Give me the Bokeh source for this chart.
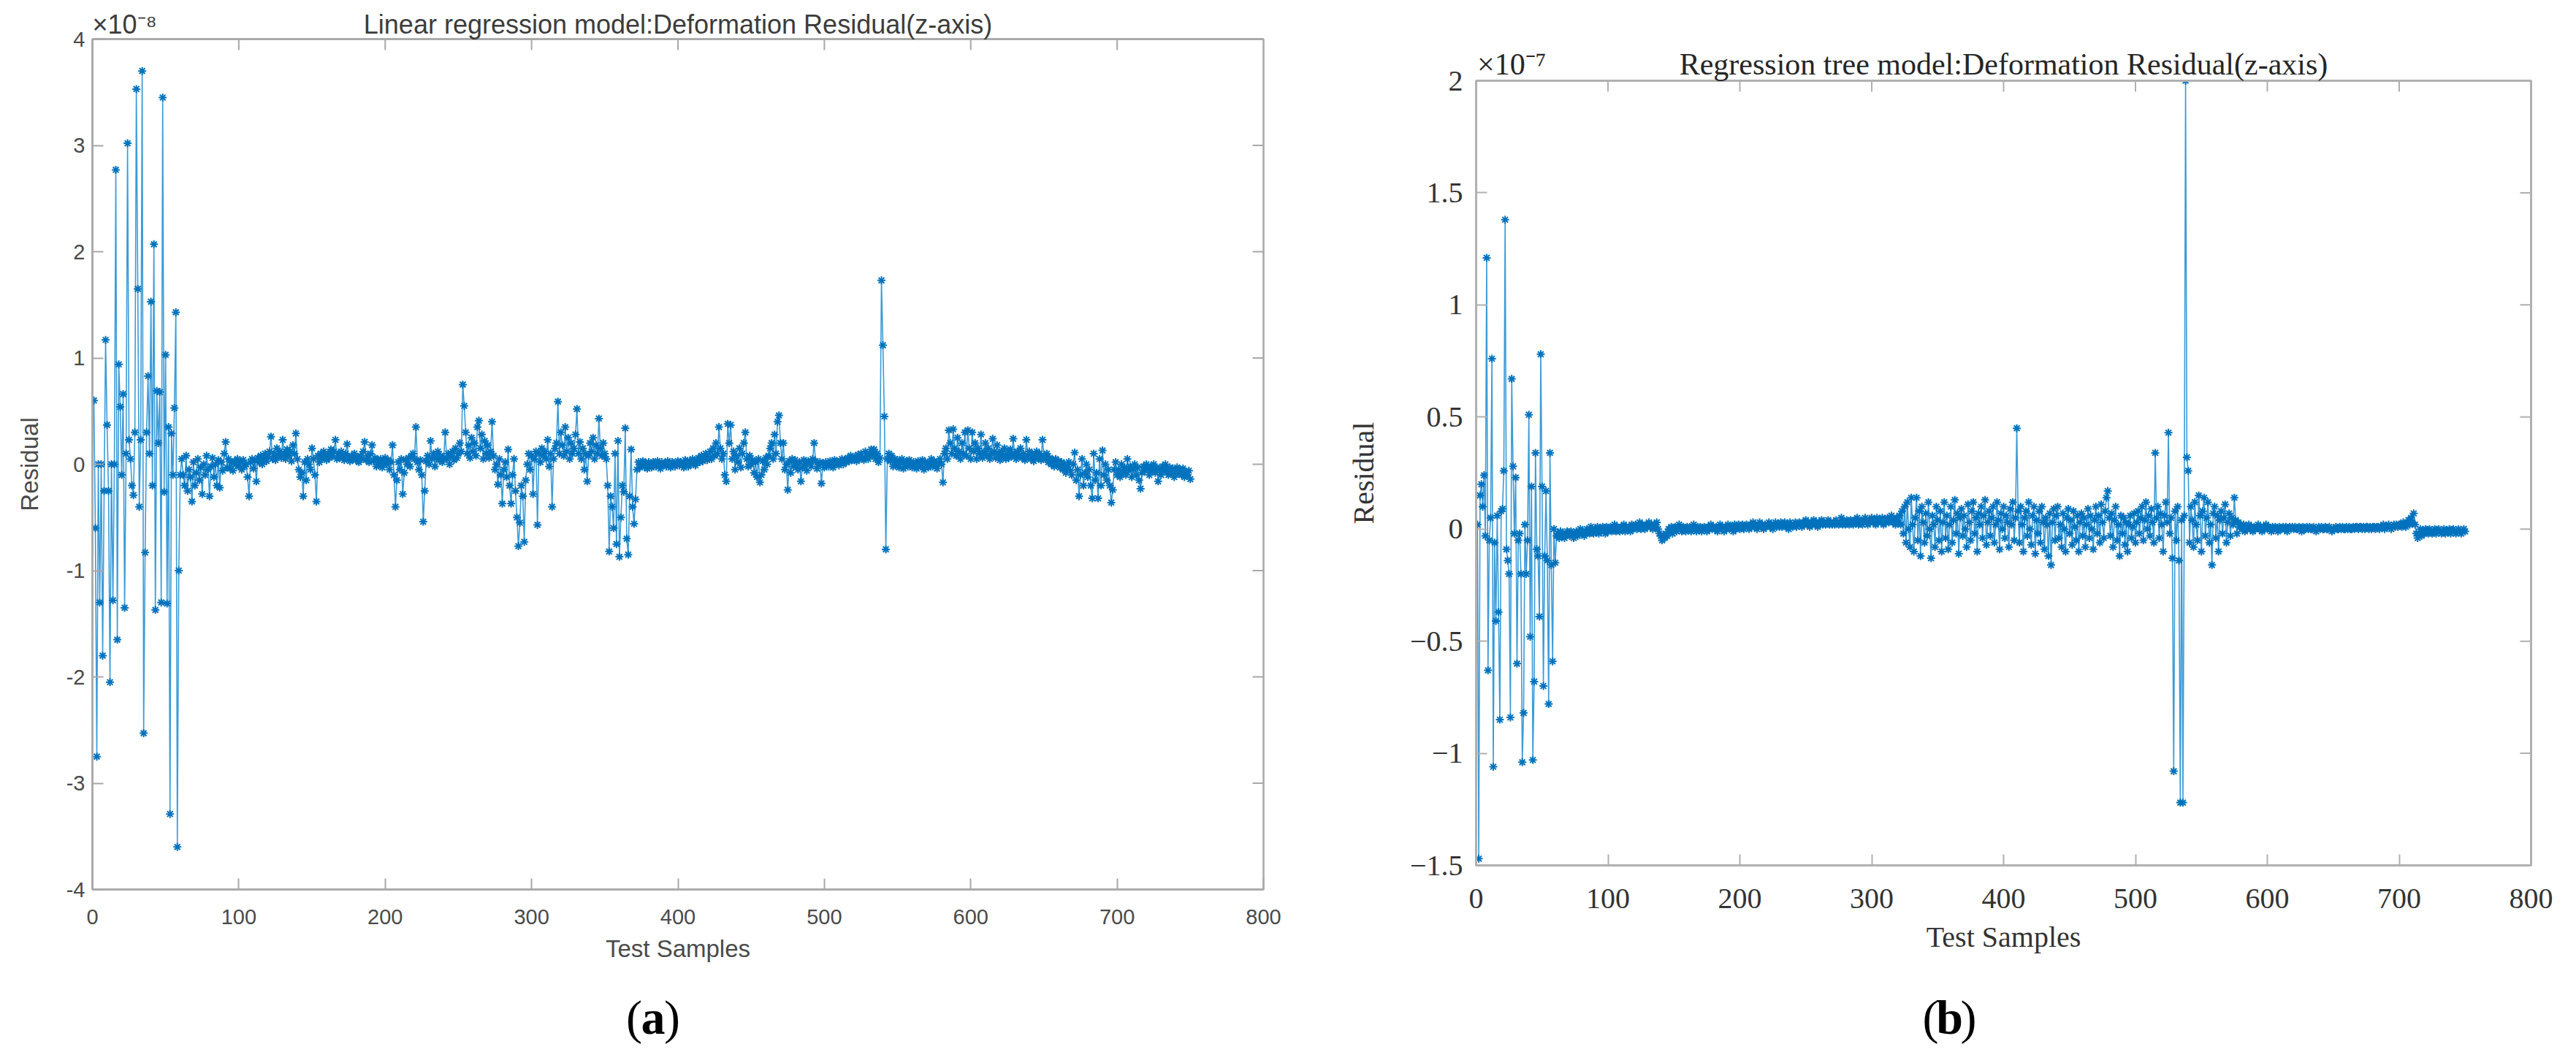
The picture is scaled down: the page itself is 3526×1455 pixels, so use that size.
from bokeh.plotting import figure
from bokeh.models import FixedTicker, Range1d, LinearAxis
from bokeh.layouts import row, column
from bokeh.core.properties import value
from bokeh.embed import file_html
from bokeh.resources import INLINE

# ---------------- data ----------------
sample_ticks = [0, 100, 200, 300, 400, 500, 600, 700, 800]
lin_ticks = [-4, -3, -2, -1, 0, 1, 2, 3, 4]
lin_tick_labels = ["-4", "-3", "-2", "-1", "0", "1", "2", "3", "4"]
tree_ticks = [-1.5, -1, -0.5, 0, 0.5, 1, 1.5, 2]
tree_tick_labels = ["\u22121.5", "\u22121", "\u22120.5", "0", "0.5", "1", "1.5", "2"]
lin_title = "Linear regression model:Deformation Residual(z-axis)"
tree_title = "Regression tree model:Deformation Residual(z-axis)"
lin_exponent = "\u00d710\u207b\u2078"
tree_exponent = "\u00d710\u207b\u2077"

# Linear regression residual (units of 1e-8)
lin_residual = [
    0.6, -0.6, -2.75, 0.0, -1.3, 0.0, -1.8, -0.25, 1.17, 0.37,
    -0.25, -2.05, 0.0, -1.28, 0.0, 2.77, -1.65, 0.94, 0.54, -0.1,
    0.66, -1.35, 0.1, 3.02, 0.23, 0.05, -0.2, -0.29, 0.3, 3.53,
    1.65, -0.4, 0.23, 3.7, -2.53, -0.83, 0.3, 0.83, 0.1, 1.53,
    -0.2, 2.07, -1.37, 0.69, 0.2, 0.68, -1.3, 3.45, -0.26, 1.03,
    -1.31, 0.35, -3.29, 0.29, -0.1, 0.53, 1.43, -3.6, -1.0, -0.1,
    0.05, -0.1, -0.2, 0.08, -0.25, -0.05, -0.12, -0.35, 0.02, -0.2,
    -0.08, 0.05, -0.15, -0.03, -0.28, 0.0, -0.1, 0.08, -0.05, -0.3,
    -0.02, 0.06, -0.12, 0.0, -0.2, 0.04, -0.22, 0.02, -0.06, 0.1,
    0.21, -0.03, 0.05, -0.04, 0.02, -0.06, 0.03, 0.0, 0.05, -0.02,
    0.02, -0.05, 0.04, -0.02, 0.0, -0.12, -0.3, 0.02, 0.05, -0.04,
    0.03, -0.16, 0.06, 0.02, 0.08, 0.0, 0.05, 0.1, 0.03, 0.07,
    0.12, 0.26, 0.05, 0.1, 0.04, 0.15, 0.08, 0.12, 0.06, 0.23,
    0.1, 0.05, 0.14, 0.08, 0.12, 0.03, 0.18, 0.1, 0.29, 0.05,
    -0.05, -0.12, -0.08, -0.3, 0.02, -0.15, 0.05, 0.0, -0.05, 0.15,
    0.05, -0.1, -0.35, 0.08, 0.02, 0.1, 0.05, 0.12, 0.08, 0.04,
    0.1, 0.06, 0.14, 0.08, 0.12, 0.23, 0.05, 0.1, 0.06, 0.12,
    0.08, 0.04, 0.1, 0.19, 0.06, 0.03, 0.08, 0.05, 0.1, 0.04,
    0.06, 0.02, 0.08, 0.05, 0.12, 0.21, 0.04, 0.08, 0.02, 0.1,
    0.18, 0.03, 0.06, -0.02, 0.04, 0.0, 0.05, -0.03, 0.02, 0.06,
    0.0, 0.04, -0.05, 0.02, 0.18, -0.1, -0.4, -0.15, 0.02, -0.05,
    0.05, -0.28, -0.08, 0.04, 0.0, 0.06, -0.02, 0.08, 0.1, 0.05,
    0.35, 0.02, -0.05, 0.04, -0.1, -0.54, -0.25, 0.03, 0.08, 0.0,
    0.22, 0.05, 0.1, -0.02, 0.06, 0.12, 0.04, 0.08, 0.02, 0.06,
    0.3, 0.05, 0.1, 0.0, 0.08, 0.12, 0.04, 0.15, 0.06, 0.1,
    0.2, 0.12, 0.75, 0.55, 0.3, 0.1, 0.18, 0.06, 0.25, 0.12,
    0.2, 0.08, 0.35, 0.41, 0.15, 0.28, 0.05, 0.22, 0.1, 0.18,
    0.06, 0.12, 0.4, 0.08, -0.05, 0.0, -0.19, 0.05, -0.1, -0.37,
    -0.05, 0.02, -0.12, 0.14, -0.2, -0.37, -0.1, 0.05, -0.25, -0.5,
    -0.77, -0.55, -0.2, -0.3, -0.73, -0.15, 0.0, 0.1, -0.05, 0.08,
    -0.28, 0.05, 0.12, -0.57, 0.1, 0.02, 0.15, 0.08, 0.12, 0.05,
    0.23, -0.02, 0.1, -0.4, 0.05, 0.15, 0.2, 0.59, 0.1, 0.3,
    0.18, 0.08, 0.35, 0.12, 0.25, 0.05, 0.2, 0.1, 0.15, 0.28,
    0.52, 0.1, 0.21, 0.05, 0.15, -0.05, 0.1, -0.16, 0.08, 0.2,
    0.12, 0.25, 0.05, 0.18, 0.1, 0.43, 0.15, 0.08, 0.2, 0.1,
    0.05, -0.2, -0.82, -0.3, -0.4, -0.6, 0.1, -0.75, 0.22, -0.87,
    -0.5, -0.2, -0.26, 0.34, -0.7, -0.85, -0.3, 0.14, -0.4, -0.56,
    -0.33, -0.05, 0.02, -0.03, 0.0, 0.03, -0.02, 0.01, -0.04, 0.02,
    0.0, -0.03, 0.02, 0.01, -0.02, 0.03, 0.0, -0.04, 0.02, -0.01,
    0.01, -0.02, 0.03, 0.0, -0.03, 0.02, 0.01, -0.02, 0.0, 0.03,
    -0.01, 0.02, 0.0, -0.03, 0.04, 0.01, -0.02, 0.03, 0.0, 0.05,
    0.02, -0.01, 0.04, 0.06, 0.02, 0.08, 0.03, 0.05, 0.1, 0.04,
    0.06, 0.12, 0.05, 0.15, 0.08, 0.2, 0.1, 0.35, 0.15, 0.05,
    0.1, -0.1, -0.16, 0.38, 0.2, 0.37, 0.05, 0.12, -0.05, 0.08,
    0.02, 0.15, -0.03, 0.1, 0.2, 0.3, 0.05, -0.02, 0.08, 0.0,
    0.04, -0.08, 0.02, -0.12, 0.05, -0.17, -0.1, 0.03, -0.05, 0.06,
    0.0, 0.08, 0.15, 0.2, 0.05, 0.28, 0.1, 0.4, 0.46, 0.2,
    0.05, 0.2, -0.05, 0.0, -0.24, 0.03, -0.08, 0.05, -0.02, 0.04,
    0.0, -0.05, 0.02, -0.16, -0.03, 0.04, 0.0, -0.06, 0.03, 0.01,
    -0.02, 0.05, 0.2, 0.03, -0.04, 0.0, 0.02, -0.18, 0.01, -0.03,
    0.02, 0.0, -0.02, 0.03, 0.01, -0.03, 0.04, 0.0, 0.02, -0.01,
    0.03, 0.05, 0.0, 0.04, 0.02, 0.06, 0.03, 0.08, 0.04, 0.05,
    0.07, 0.03, 0.09, 0.05, 0.1, 0.06, 0.04, 0.12, 0.08, 0.05,
    0.1, 0.14, 0.08, 0.14, 0.05, 0.1, 0.02, 0.06, 1.73, 1.12,
    0.45, -0.8, 0.05, 0.1, 0.03, 0.08, -0.02, 0.05, 0.0, 0.04,
    -0.03, 0.02, 0.05, -0.04, 0.0, 0.03, -0.02, 0.04, 0.01, -0.03,
    0.02, 0.0, -0.04, 0.03, 0.01, -0.02, 0.04, -0.05, 0.02, 0.0,
    -0.03, 0.02, 0.05, -0.02, 0.03, 0.0, -0.04, 0.02, 0.05, 0.0,
    -0.17, 0.1, 0.15, 0.05, 0.32, 0.2, 0.1, 0.33, 0.15, 0.08,
    0.25, 0.12, 0.05, 0.2, 0.1, 0.3, 0.08, 0.32, 0.15, 0.05,
    0.3, 0.12, 0.2, 0.05, 0.15, 0.1, 0.28, 0.06, 0.12, 0.2,
    0.08, 0.15, 0.05, 0.1, 0.24, 0.12, 0.06, 0.18, 0.1, 0.04,
    0.12, 0.08, 0.15, 0.05, 0.1, 0.06, 0.14, 0.08, 0.24, 0.1,
    0.05, 0.12, 0.08, 0.15, 0.06, 0.1, 0.04, 0.23, 0.08, 0.12,
    0.05, 0.1, 0.03, 0.08, 0.12, 0.06, 0.1, 0.04, 0.23, 0.08,
    0.05, 0.1, 0.02, 0.06, 0.0, 0.04, -0.02, 0.05, 0.0, 0.03,
    -0.03, 0.02, -0.05, 0.0, -0.08, -0.03, 0.02, -0.06, -0.1, 0.0,
    0.11, -0.15, -0.05, -0.3, -0.1, 0.05, -0.2, -0.08, 0.0, -0.12,
    -0.05, -0.2, -0.32, 0.1, -0.15, -0.08, -0.32, 0.05, -0.2, 0.13,
    -0.1, 0.0, -0.15, -0.05, -0.2, -0.36, -0.24, -0.05, 0.02, -0.1,
    -0.05, -0.12, 0.0, -0.08, -0.03, -0.1, 0.05, -0.06, -0.02, -0.12,
    -0.05, 0.0, -0.1, -0.03, -0.15, -0.23, -0.08, -0.02, -0.06, 0.0,
    -0.04, -0.1, -0.02, -0.06, 0.0, -0.08, -0.03, -0.16, -0.05, -0.1,
    -0.02, -0.07, 0.0, -0.05, -0.1, -0.03, -0.08, -0.04, -0.12, -0.06,
    -0.03, -0.09, -0.05, -0.1, -0.04, -0.12, -0.07, -0.1, -0.06, -0.14,
]

# Regression tree residual (units of 1e-7)
tree_residual = [
    0.02, -1.47, 0.15, 0.2, 0.1, 0.24, -0.03, 1.21, -0.63, -0.05,
    0.05, 0.76, -1.06, -0.06, -0.41, 0.06, -0.37, -0.85, 0.08, 0.09,
    0.26, 1.38, -0.09, -0.14, -0.2, -0.84, 0.67, 0.28, -0.02, 0.23,
    -0.6, -0.05, -0.02, -0.2, -1.04, -0.82, 0.02, -0.2, -0.05, 0.51,
    -0.48, 0.19, -1.03, -0.68, 0.34, -0.09, -0.12, -0.39, 0.78, 0.19,
    -0.7, -0.12, 0.17, -0.14, -0.78, 0.34, -0.16, -0.59, 0.0, -0.15,
    -0.03, -0.02, -0.04, -0.01, -0.03, -0.02, -0.04, -0.03, -0.01, -0.02,
    -0.03, -0.01, -0.02, -0.04, -0.02, -0.01, -0.03, -0.02, 0.0, -0.02,
    -0.01, -0.03, -0.02, 0.0, -0.01, -0.02, 0.01, -0.01, -0.02, 0.0,
    -0.01, 0.01, -0.02, 0.0, -0.01, 0.01, 0.0, -0.02, 0.01, -0.01,
    0.0, 0.01, -0.01, 0.0, 0.02, -0.01, 0.01, 0.0, -0.01, 0.01,
    0.0, 0.02, -0.01, 0.01, 0.0, 0.01, -0.01, 0.02, 0.0, 0.01,
    0.02, 0.0, 0.01, 0.03, 0.0, 0.02, 0.01, 0.0, 0.02, 0.01,
    0.03, 0.01, 0.02, 0.0, 0.02, 0.01, 0.03, 0.0, -0.02, -0.03,
    -0.05, -0.03, -0.04, -0.02, -0.03, 0.0, -0.01, 0.01, -0.02, 0.0,
    0.01, -0.01, 0.0, 0.02, 0.0, -0.01, 0.01, 0.0, -0.01, 0.01,
    0.0, 0.01, -0.01, 0.0, 0.02, 0.0, -0.01, 0.01, 0.0, 0.01,
    -0.01, 0.0, 0.01, 0.0, -0.01, 0.01, 0.0, 0.02, 0.0, 0.01,
    0.0, 0.01, -0.01, 0.01, 0.02, 0.0, 0.01, -0.01, 0.01, 0.0,
    0.02, 0.0, 0.01, 0.01, -0.01, 0.02, 0.0, 0.01, 0.02, 0.0,
    0.01, 0.02, 0.0, 0.01, 0.02, 0.01, 0.0, 0.02, 0.01, 0.03,
    0.01, 0.02, 0.0, 0.01, 0.03, 0.01, 0.02, 0.0, 0.02, 0.01,
    0.02, 0.03, 0.01, 0.02, 0.0, 0.02, 0.03, 0.01, 0.02, 0.01,
    0.03, 0.01, 0.02, 0.03, 0.01, 0.02, 0.0, 0.03, 0.02, 0.01,
    0.02, 0.03, 0.01, 0.02, 0.03, 0.02, 0.01, 0.03, 0.02, 0.04,
    0.02, 0.03, 0.01, 0.03, 0.02, 0.04, 0.02, 0.03, 0.01, 0.03,
    0.02, 0.04, 0.02, 0.03, 0.02, 0.03, 0.04, 0.02, 0.03, 0.02,
    0.03, 0.02, 0.04, 0.03, 0.02, 0.03, 0.05, 0.02, 0.03, 0.02,
    0.04, 0.03, 0.02, 0.04, 0.03, 0.02, 0.04, 0.03, 0.05, 0.02,
    0.03, 0.04, 0.02, 0.03, 0.05, 0.03, 0.02, 0.04, 0.03, 0.05,
    0.03, 0.04, 0.02, 0.05, 0.03, 0.04, 0.03, 0.05, 0.02, 0.04,
    0.03, 0.05, 0.03, 0.04, 0.06, 0.03, 0.04, 0.02, 0.05, 0.03,
    0.06, 0.02, 0.08, -0.02, 0.1, -0.06, 0.12, 0.0, -0.08, 0.14,
    0.02, -0.1, 0.05, 0.14, -0.05, 0.08, -0.12, 0.1, 0.03, -0.06,
    0.07, -0.03, 0.12, 0.0, -0.13, 0.06, 0.02, -0.08, 0.1, 0.04,
    -0.05, 0.08, -0.1, 0.03, 0.12, -0.04, 0.06, -0.09, 0.02, 0.1,
    -0.06, 0.04, 0.13, -0.02, 0.07, -0.11, 0.05, 0.09, -0.03, 0.06,
    0.0, -0.08, 0.11, 0.03, -0.05, 0.08, 0.12, -0.02, 0.05, -0.1,
    0.07, 0.02, 0.1, -0.04, 0.06, 0.13, -0.07, 0.03, 0.08, -0.03,
    0.05, 0.1, -0.06, 0.02, 0.12, 0.04, -0.09, 0.07, 0.0, 0.1,
    -0.04, 0.06, 0.03, -0.08, 0.09, 0.02, 0.12, -0.05, 0.05, 0.45,
    0.08, -0.06, 0.1, 0.02, -0.1, 0.05, 0.08, -0.03, 0.12, 0.0,
    -0.07, 0.06, 0.1, -0.11, 0.04, -0.02, 0.08, -0.06, 0.1, 0.03,
    -0.09, 0.05, 0.02, -0.12, 0.07, -0.16, 0.03, 0.09, -0.05, 0.06,
    0.1, -0.04, 0.02, -0.08, 0.07, 0.0, -0.1, 0.05, 0.09, -0.02,
    0.04, -0.07, 0.08, 0.01, -0.05, 0.06, -0.1, 0.03, 0.07, -0.03,
    0.05, -0.08, 0.02, 0.09, -0.04, 0.06, 0.0, -0.09, 0.04, 0.1,
    -0.02, 0.06, -0.06, 0.11, 0.03, -0.04, 0.08, 0.14, 0.17, 0.05,
    -0.03, 0.07, -0.08, 0.04, 0.1, -0.05, 0.02, -0.12, 0.06, -0.02,
    0.05, -0.07, 0.03, -0.1, 0.02, 0.06, -0.04, 0.01, 0.07, -0.06,
    0.03, 0.08, -0.02, 0.05, 0.1, -0.05, 0.04, 0.12, 0.0, 0.06,
    -0.03, 0.09, 0.03, -0.06, 0.34, 0.05, 0.1, -0.04, 0.07, 0.02,
    -0.1, 0.06, 0.12, 0.03, 0.43, -0.02, 0.05, -0.13, -1.08, 0.08,
    -0.05, 0.1, -0.14, -1.22, 0.04, -1.22, 0.06, 2.0, 0.32, 0.26,
    -0.06, 0.1, 0.04, -0.08, 0.12, 0.02, -0.05, 0.15, 0.06, -0.1,
    0.08, 0.14, -0.03, 0.05, 0.12, -0.06, 0.02, -0.16, 0.07, 0.1,
    -0.04, 0.06, -0.1, 0.04, 0.08, -0.02, 0.05, 0.11, -0.06, 0.03,
    0.07, -0.03, 0.05, 0.02, 0.14, 0.04, -0.02, 0.03, 0.01, 0.02,
    0.0, 0.02, -0.01, 0.01, 0.0, 0.02, 0.0, 0.01, -0.01, 0.01,
    0.0, 0.01, 0.02, 0.0, 0.01, -0.01, 0.01, 0.0, 0.02, 0.0,
    0.01, 0.0, -0.01, 0.01, 0.0, 0.01, 0.0, -0.01, 0.01, 0.0,
    0.0, 0.01, 0.0, 0.01, -0.01, 0.0, 0.01, 0.0, 0.01, 0.0,
    0.01, 0.0, 0.0, 0.01, 0.0, -0.01, 0.01, 0.0, 0.0, 0.01,
    0.0, 0.01, 0.0, 0.0, 0.01, 0.0, -0.01, 0.0, 0.01, 0.0,
    0.01, 0.0, 0.0, 0.01, 0.0, 0.0, 0.01, 0.0, -0.01, 0.0,
    0.0, 0.01, 0.0, 0.0, 0.01, 0.0, 0.01, 0.0, 0.0, 0.01,
    0.0, 0.01, 0.0, 0.0, 0.01, 0.0, 0.01, 0.01, 0.0, 0.01,
    0.01, 0.0, 0.01, 0.0, 0.01, 0.01, 0.0, 0.01, 0.0, 0.01,
    0.01, 0.0, 0.01, 0.01, 0.0, 0.01, 0.01, 0.02, 0.0, 0.01,
    0.01, 0.02, 0.01, 0.0, 0.01, 0.02, 0.01, 0.02, 0.01, 0.02,
    0.02, 0.01, 0.03, 0.02, 0.01, 0.03, 0.04, 0.02, 0.05, 0.03,
    0.07, 0.02, -0.02, -0.04, -0.02, 0.0, -0.03, -0.01, -0.02, 0.0,
    -0.01, -0.02, 0.0, -0.01, -0.02, -0.01, 0.0, -0.02, -0.01, 0.0,
    -0.01, -0.02, -0.01, 0.0, -0.02, -0.01, -0.01, 0.0, -0.02, -0.01,
    0.0, -0.01, -0.02, -0.01, 0.0, -0.01, -0.02, -0.01, 0.0, -0.01,
]

lin_samples = list(range(1, len(lin_residual) + 1))
tree_samples = list(range(1, len(tree_residual) + 1))

LINE_COLOR = "#3b9bd8"
MARK_COLOR = "#0072BD"


def text_strip(width, height, left, right, x_range):
    f = figure(width=width, height=height, x_range=x_range, y_range=Range1d(0, height),
               x_axis_location=None, y_axis_location=None, title=None,
               min_border_left=left, min_border_right=right, min_border_top=0, min_border_bottom=0,
               output_backend="svg", toolbar_location=None)
    f.grid.visible = False
    f.outline_line_color = None
    return f


def put_text(f, x, y, s, font, size, color, align="left", baseline="alphabetic",
             style="normal", dx=0):
    f.text(x=[x], y=[y], text=[s], x_offset=dx, text_align=align, text_baseline=baseline,
           text_font=value(font), text_font_size=value(size), text_font_style=value(style),
           text_color=color)


def main_fig(width, height, left, right, top, bottom, x_range, y_range, xticks, yticks, ylabels,
             font, tick_size, label_size, text_color, axis_color, axis_width, tick_px,
             exponent, exponent_at, title, title_size, title_color, title_standoff):
    p = figure(width=width, height=height, x_range=x_range, y_range=y_range, title=None,
               min_border_left=left, min_border_right=right, min_border_top=top, min_border_bottom=bottom,
               output_backend="svg", toolbar_location=None)
    p.xgrid.visible = False
    p.ygrid.visible = False
    p.outline_line_color = axis_color
    p.outline_line_width = axis_width
    xax = p.xaxis[0]
    yax = p.yaxis[0]
    xax.ticker = FixedTicker(ticks=xticks)
    yax.ticker = FixedTicker(ticks=yticks)
    yax.major_label_overrides = {t: s for t, s in zip(yticks, ylabels)}
    xax.major_label_overrides = {t: str(t) for t in xticks}
    for ax in (xax, yax):
        ax.major_tick_in = tick_px
        ax.major_tick_out = 0
        ax.minor_tick_line_color = None
        ax.axis_line_color = axis_color
        ax.axis_line_width = axis_width
        ax.major_tick_line_color = axis_color
        ax.major_tick_line_width = 2
        ax.major_label_text_font = font
        ax.major_label_text_font_size = tick_size
        ax.major_label_text_color = text_color
        ax.axis_label_text_font = font
        ax.axis_label_text_font_size = label_size
        ax.axis_label_text_font_style = "normal"
        ax.axis_label_text_color = text_color
    # top edge of the box: carries the exponent note (near the left corner) and the
    # chart title (centred over the box) in a single row, as in the original figure
    mid = (x_range.start + x_range.end) / 2
    top_ax = LinearAxis(ticker=FixedTicker(ticks=[exponent_at, mid]),
                        major_label_overrides={exponent_at: exponent, mid: title})
    top_ax.major_tick_in = 0
    top_ax.major_tick_out = 0
    top_ax.minor_tick_line_color = None
    top_ax.axis_line_color = axis_color
    top_ax.axis_line_width = axis_width
    top_ax.major_label_text_font = font
    top_ax.major_label_text_font_size = title_size
    top_ax.major_label_text_color = title_color
    top_ax.major_label_standoff = title_standoff
    p.add_layout(top_ax, "above")
    # inward ticks on the top and right edges of the box (mirrors of the axes ticks)
    fw = width - left - right
    fh = height - top - bottom
    x0, x1 = x_range.start, x_range.end
    y0, y1 = y_range.start, y_range.end
    dy = tick_px * (y1 - y0) / fh
    dx = tick_px * (x1 - x0) / fw
    tx = [t for t in xticks if x0 < t < x1]
    ty = [t for t in yticks if y0 < t < y1]
    p.segment(x0=tx, y0=[y1] * len(tx), x1=tx, y1=[y1 - dy] * len(tx),
              line_color=axis_color, line_width=2)
    p.segment(x0=[x1] * len(ty), y0=ty, x1=[x1 - dx] * len(ty), y1=ty,
              line_color=axis_color, line_width=2)
    return p, xax, yax


# ---------------- (a) linear regression ----------------
L_W, L_LEFT, L_RIGHT = 1790, 126, 61
xr1 = Range1d(0, 800)
yr1 = Range1d(-4, 4)
p1, x1ax, y1ax = main_fig(L_W, 1337, L_LEFT, L_RIGHT, 53, 120, xr1, yr1, sample_ticks, lin_ticks,
                          lin_tick_labels, "Liberation Sans", "29px", "33px", "#4a4a4a",
                          "#a8a8a8", 2.5, 15,
                          lin_exponent, 22, lin_title, "36px", "#3c3c3c", 0)
x1ax.axis_label = "Test Samples"
x1ax.major_label_standoff = 27
x1ax.axis_label_standoff = 12
y1ax.axis_label = "Residual"
y1ax.major_label_standoff = 10
y1ax.axis_label_standoff = 29

p1.line(lin_samples, lin_residual, line_color=LINE_COLOR, line_width=1.6)
p1.scatter(lin_samples, lin_residual, marker="asterisk", size=11,
           line_color=MARK_COLOR, line_width=2)

c1 = text_strip(L_W, 102, L_LEFT, L_RIGHT, xr1)
put_text(c1, 383, 47, "(", "Liberation Serif", "66px", "#000000", align="center", baseline="middle", dx=-26)
put_text(c1, 383, 47, "a", "Liberation Serif", "66px", "#000000", align="center", baseline="middle",
         style="bold")
put_text(c1, 383, 47, ")", "Liberation Serif", "66px", "#000000", align="center", baseline="middle", dx=26)

# ---------------- (b) regression tree ----------------
R_W, R_LEFT, R_RIGHT = 1720, 230, 46
xr2 = Range1d(0, 800)
yr2 = Range1d(-1.5, 2)
p2, x2ax, y2ax = main_fig(R_W, 1337, R_LEFT, R_RIGHT, 110, 153, xr2, yr2, sample_ticks, tree_ticks,
                          tree_tick_labels, "Liberation Serif", "40px", "40px", "#333333",
                          "#b0b0b0", 3, 15,
                          tree_exponent, 27, tree_title, "42px", "#262626", 0)
x2ax.axis_label = "Test Samples"
x2ax.major_label_standoff = 32
x2ax.axis_label_standoff = 14
y2ax.axis_label = "Residual"
y2ax.major_label_standoff = 18
y2ax.axis_label_standoff = 38

p2.line(tree_samples, tree_residual, line_color=LINE_COLOR, line_width=1.6)
p2.scatter(tree_samples, tree_residual, marker="asterisk", size=11,
           line_color=MARK_COLOR, line_width=2)

c2 = text_strip(R_W, 102, R_LEFT, R_RIGHT, xr2)
put_text(c2, 359, 47, "(", "Liberation Serif", "66px", "#000000", align="center", baseline="middle", dx=-26)
put_text(c2, 359, 47, "b", "Liberation Serif", "66px", "#000000", align="center", baseline="middle",
         style="bold")
put_text(c2, 359, 47, ")", "Liberation Serif", "66px", "#000000", align="center", baseline="middle", dx=26)

layout = row(column(p1, c1), column(p2, c2))
open("out.html", "w").write(file_html(layout, INLINE))
